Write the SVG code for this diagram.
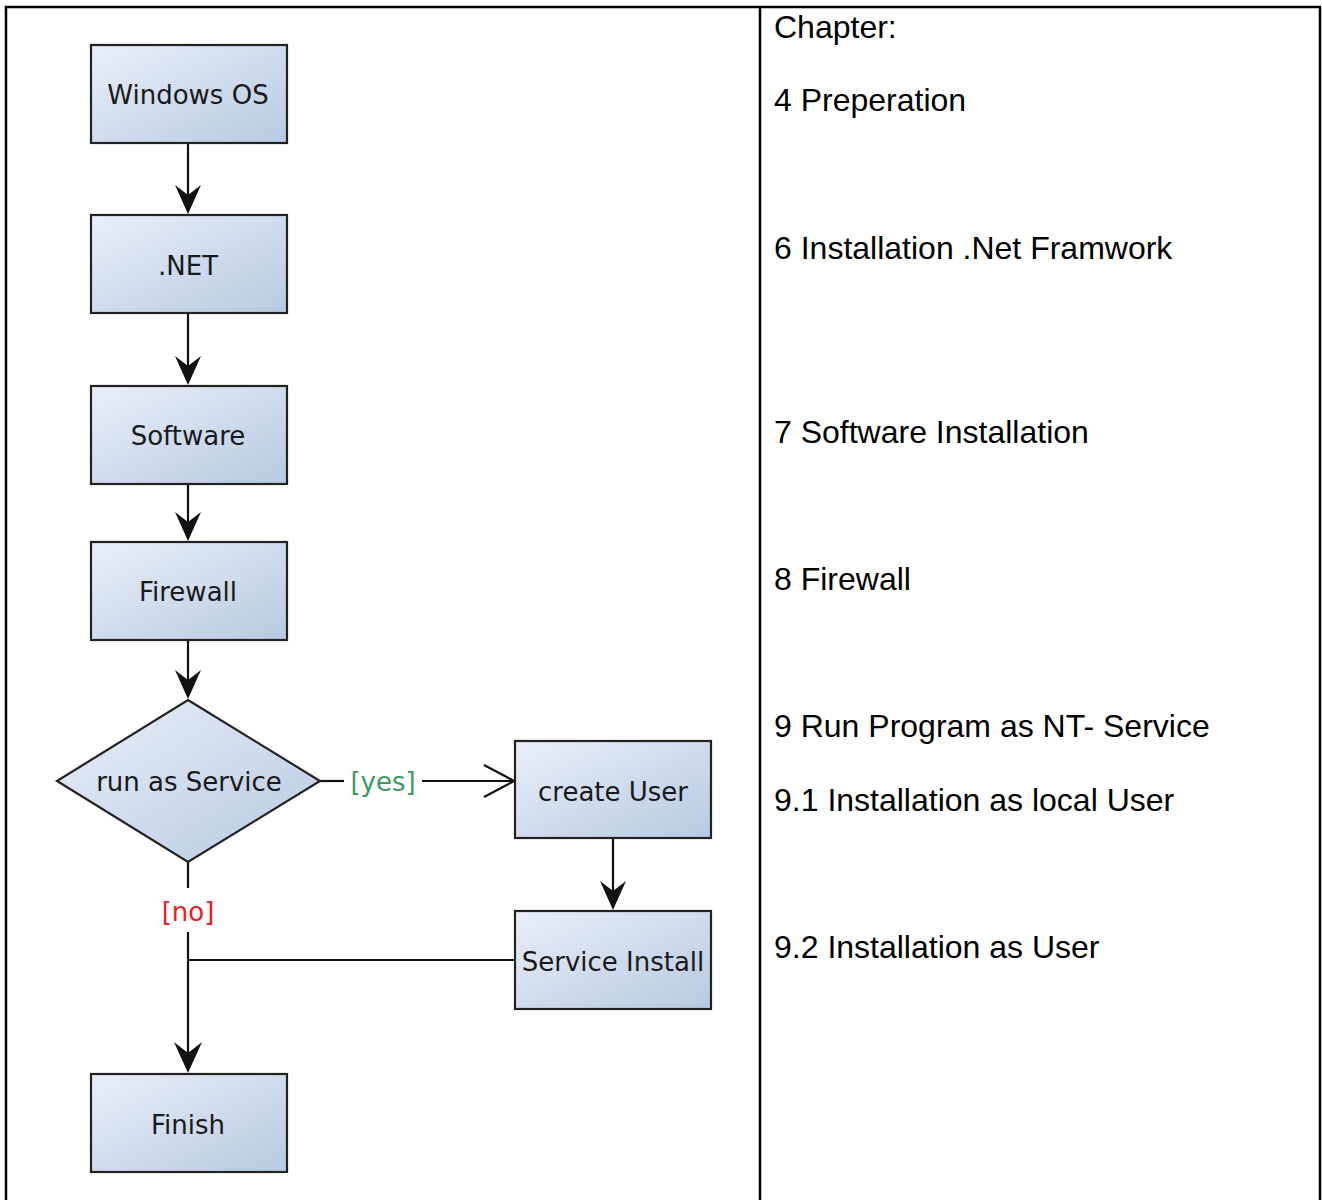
<svg xmlns="http://www.w3.org/2000/svg" width="1322" height="1200" viewBox="0 0 1322 1200">
<defs>
<linearGradient id="g" x1="0" y1="0" x2="1" y2="1">
<stop offset="0" stop-color="#e9eef7"/>
<stop offset="1" stop-color="#b7c9e3"/>
</linearGradient>
<style>
.box{fill:url(#g);stroke:#222;stroke-width:2.2}
.lbl{font-family:"DejaVu Sans",sans-serif;font-size:26px;fill:#1a1a1a;text-anchor:middle}
.ch{font-family:"Liberation Sans",Arial,sans-serif;font-size:32px;fill:#000}
.ln{stroke:#111;stroke-width:2.2;fill:none}
.ah{fill:#111}
</style>
</defs>
<rect width="1322" height="1200" fill="#fff"/>
<g id="frame">
<path d="M6,1202 V7 H1320 V1202" fill="none" stroke="#000" stroke-width="2.5"/>
<line x1="760" y1="7" x2="760" y2="1202" stroke="#000" stroke-width="2.5"/>
</g>
<g id="connectors">
<line class="ln" x1="188" y1="143" x2="188" y2="205"/>
<path class="ah" d="M188,214 L175,185 L188,195 L201,185 Z"/>
<line class="ln" x1="188" y1="313" x2="188" y2="376"/>
<path class="ah" d="M188,385 L175,356 L188,366 L201,356 Z"/>
<line class="ln" x1="188" y1="484" x2="188" y2="532"/>
<path class="ah" d="M188,541 L175,512 L188,522 L201,512 Z"/>
<line class="ln" x1="188" y1="640" x2="188" y2="690"/>
<path class="ah" d="M188,699 L175,670 L188,680 L201,670 Z"/>
<line class="ln" x1="320" y1="781" x2="344" y2="781"/>
<line class="ln" x1="422" y1="781" x2="514" y2="781"/>
<path class="ln" d="M484,765 L514,781 L484,797"/>
<line class="ln" x1="613" y1="838" x2="613" y2="901"/>
<path class="ah" d="M613,910 L600,881 L613,891 L626,881 Z"/>
<line class="ln" x1="188" y1="862" x2="188" y2="888"/>
<line class="ln" x1="188" y1="932" x2="188" y2="1064"/>
<path class="ah" d="M188,1073 L174,1042 L188,1053 L202,1042 Z"/>
<line class="ln" x1="188" y1="960" x2="515" y2="960"/>
<text x="383" y="791" font-family="DejaVu Sans,sans-serif" font-size="26" fill="#3c9a5f" text-anchor="middle">[yes]</text>
<text x="188" y="921" font-family="DejaVu Sans,sans-serif" font-size="26" fill="#ee1c25" text-anchor="middle">[no]</text>
</g>
<g id="n-windows"><rect class="box" x="91" y="45" width="196" height="98"/><text class="lbl" x="188" y="104">Windows OS</text></g>
<g id="n-net"><rect class="box" x="91" y="215" width="196" height="98"/><text class="lbl" x="188" y="275">.NET</text></g>
<g id="n-software"><rect class="box" x="91" y="386" width="196" height="98"/><text class="lbl" x="188" y="445">Software</text></g>
<g id="n-firewall"><rect class="box" x="91" y="542" width="196" height="98"/><text class="lbl" x="188" y="601">Firewall</text></g>
<g id="n-decision"><polygon class="box" points="188,700 320,781 188,862 57,781"/><text class="lbl" x="189" y="791">run as Service</text></g>
<g id="n-createuser"><rect class="box" x="515" y="741" width="196" height="97"/><text class="lbl" x="613" y="801">create User</text></g>
<g id="n-serviceinstall"><rect class="box" x="515" y="911" width="196" height="98"/><text class="lbl" x="613" y="971">Service Install</text></g>
<g id="n-finish"><rect class="box" x="91" y="1074" width="196" height="98"/><text class="lbl" x="188" y="1134">Finish</text></g>
<g id="chapters">
<text class="ch" x="774" y="38">Chapter:</text>
<text class="ch" x="774" y="111">4 Preperation</text>
<text class="ch" x="774" y="259">6 Installation .Net Framwork</text>
<text class="ch" x="774" y="443">7 Software Installation</text>
<text class="ch" x="774" y="590">8 Firewall</text>
<text class="ch" x="774" y="737">9 Run Program as NT- Service</text>
<text class="ch" x="774" y="811">9.1 Installation as local User</text>
<text class="ch" x="774" y="958">9.2 Installation as User</text>
</g>
</svg>
